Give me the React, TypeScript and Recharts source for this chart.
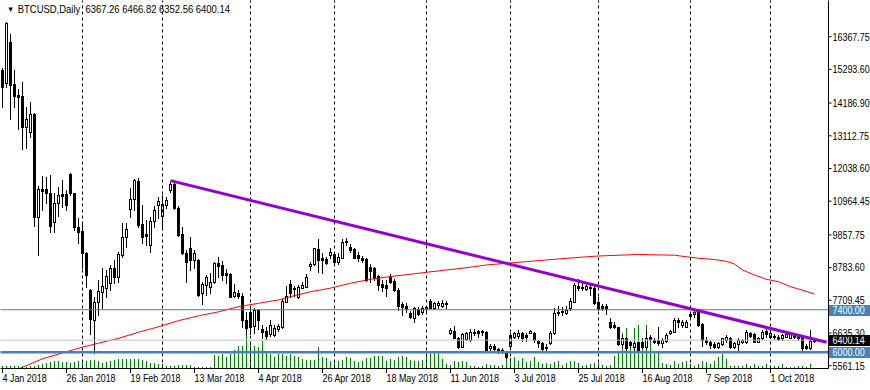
import { ComposedChart, Bar, Line, XAxis, YAxis, ReferenceLine } from "recharts";

const MONTHS = ["Jan", "Feb", "Mar", "Apr", "May", "Jun", "Jul", "Aug", "Sep", "Oct", "Nov", "Dec"];

// daily OHLC, weekdays from 4 Jan 2018 to 16 Oct 2018
const opens = [
  15270, 14840, 16180, 14810, 14450, 14420, 13390, 13230, 13820, 10460,
  11370, 11350, 11250, 10270, 10920, 11210, 11200, 11860, 11220, 10130,
  9990, 9270, 8050, 7060, 7660, 7990, 8100, 8290, 8780, 8490,
  9200, 9800, 10710, 11030, 11640, 10200, 9890, 9530, 10310, 10840,
  10480, 10840, 11330, 11530, 10730, 9880, 9270, 9420, 9030, 9030,
  7940, 8210, 8160, 8320, 8950, 8870, 8600, 8570, 7850, 7960,
  7860, 7060, 7340, 6870, 7390, 6770, 6700, 6600, 6570, 6760,
  6840, 7660, 8230, 8120, 7830, 8120, 8160, 8850, 8890, 9400,
  9090, 9060, 9200, 9220, 8960, 9110, 9660, 9470, 9400, 9200,
  9110, 9060, 8810, 8780, 8520, 8230, 8210, 8490, 8340, 8050,
  7580, 7530, 7280, 7140, 7420, 7310, 7420, 7690, 7450, 7560,
  7530, 7580, 6650, 6700, 6480, 6190, 6440, 6400, 6680, 6700,
  6700, 6660, 6130, 6220, 6110, 6080, 6020, 6220, 6520, 6540,
  6620, 6570, 6650, 6620, 6370, 6300, 6190, 6300, 6620, 7340,
  7360, 7280, 7450, 7670, 8180, 8160, 8080, 8160, 8120, 7670,
  7530, 7530, 7010, 6900, 6820, 6260, 6480, 6330, 6190, 6330,
  6350, 6190, 6520, 6400, 6400, 6300, 6370, 6620, 6680, 7060,
  6900, 6840, 7260, 7260, 7370, 6920, 6410, 6350, 6260, 6190,
  6260, 6410, 6480, 6190, 6260, 6330, 6330, 6620, 6590, 6350,
  6460, 6700, 6520, 6550, 6520, 6460, 6520, 6480, 6570, 6550,
  6520, 6220, 6150, 6367.26,
];
const highs = [
  15330, 16860, 16460, 15270, 14640, 14890, 14070, 14230, 13850, 11460,
  11800, 11770, 11830, 11250, 11420, 11660, 11330, 11880, 11250, 10400,
  10240, 9310, 8080, 7830, 8380, 8760, 8700, 8870, 9030, 9310,
  10240, 10240, 11390, 11680, 11720, 10840, 10350, 10430, 10810, 11110,
  11170, 11110, 11610, 11610, 10810, 10130, 9360, 9800, 9360, 9060,
  8320, 8540, 8620, 8980, 9140, 9010, 8730, 8600, 8230, 8050,
  7940, 7340, 7500, 7450, 7410, 6900, 6840, 7060, 6900, 6920,
  7750, 8180, 8380, 8190, 8210, 8300, 8560, 8960, 9440, 9720,
  9250, 9140, 9420, 9250, 9250, 9720, 9770, 9550, 9420, 9310,
  9180, 9090, 8890, 8810, 8540, 8380, 8380, 8560, 8410, 8100,
  7670, 7610, 7360, 7500, 7500, 7530, 7530, 7750, 7670, 7690,
  7720, 7690, 6790, 6870, 6520, 6620, 6660, 6770, 6770, 6730,
  6730, 6700, 6260, 6260, 6150, 6130, 6040, 6620, 6680, 6730,
  6680, 6620, 6730, 6680, 6400, 6350, 6260, 6700, 7470, 7530,
  7500, 7530, 7770, 8270, 8410, 8270, 8230, 8210, 8190, 7830,
  7580, 7580, 7120, 6990, 6840, 6570, 6520, 6370, 6370, 6350,
  6460, 6730, 6570, 6480, 6840, 6460, 6620, 6730, 7120, 7120,
  7060, 7060, 7340, 7420, 7420, 6950, 6520, 6410, 6350, 6350,
  6480, 6570, 6520, 6350, 6460, 6440, 6730, 6680, 6620, 6520,
  6730, 6790, 6700, 6590, 6570, 6590, 6620, 6620, 6590, 6590,
  6570, 6260, 6730, 6466.82,
];
const lows = [
  14070, 14710, 13650, 14050, 13330, 12670, 12700, 13080, 10150, 9200,
  10680, 10890, 9960, 9960, 10480, 10790, 10680, 11170, 10020, 9580,
  8760, 8160, 6590, 5970, 7230, 7470, 7830, 8050, 8270, 8320,
  9140, 9470, 10460, 10680, 10130, 9580, 9530, 9310, 10130, 10400,
  10130, 10730, 11280, 10700, 9820, 9230, 8300, 8700, 8760, 7850,
  7580, 7880, 7940, 8270, 8490, 8380, 8270, 7810, 7830, 7770,
  6840, 6600, 6600, 6620, 6760, 6460, 6430, 6540, 6550, 6700,
  6810, 7640, 7830, 7860, 7800, 8100, 8150, 8700, 8870, 8650,
  8600, 8890, 9090, 8890, 8890, 9090, 9530, 9310, 9090, 9000,
  8980, 8340, 8320, 8380, 8050, 8020, 7860, 8270, 8020, 7390,
  7230, 7330, 7120, 7010, 7230, 7250, 7340, 7450, 7420, 7450,
  7500, 7470, 6590, 6460, 6150, 6160, 6400, 6370, 6570, 6520,
  6570, 6000, 6080, 6020, 5990, 5970, 5800, 6190, 6460, 6460,
  6370, 6370, 6620, 6330, 6190, 6080, 6040, 6270, 6590, 7230,
  7230, 7250, 7390, 7640, 8050, 8050, 8050, 7880, 7580, 7390,
  7390, 7250, 6810, 6790, 6240, 6190, 6080, 6190, 6040, 6040,
  6130, 6130, 6370, 6300, 6240, 6190, 6350, 6600, 6660, 6840,
  6840, 6820, 7140, 7170, 6880, 6220, 6260, 6130, 6130, 6150,
  6240, 6350, 6130, 6130, 6080, 6300, 6300, 6520, 6330, 6330,
  6440, 6520, 6480, 6440, 6400, 6400, 6490, 6460, 6480, 6400,
  6080, 6110, 6110, 6352.56,
];
const closes = [
  14730, 16810, 14780, 14420, 14380, 13390, 13660, 13820, 10430, 11350,
  11310, 11250, 10160, 10920, 11160, 11150, 10840, 11220, 10130, 9960,
  9250, 8540, 7080, 7640, 8030, 8180, 8510, 8760, 8490, 9220,
  9800, 10040, 11030, 11650, 10180, 9800, 9830, 10330, 10680, 10980,
  10870, 11000, 11530, 10730, 9850, 9250, 8960, 9030, 9250, 7880,
  8250, 8460, 8320, 8950, 8840, 8540, 8540, 7830, 7970, 7850,
  7060, 6810, 6840, 7390, 7060, 6680, 6540, 6900, 6790, 6880,
  7690, 7860, 7940, 8070, 8160, 8210, 8490, 8900, 9420, 9030,
  9030, 8920, 9310, 8960, 9140, 9640, 9610, 9360, 9110, 9090,
  9030, 8380, 8670, 8430, 8210, 8160, 8100, 8320, 8050, 7530,
  7500, 7420, 7170, 7450, 7250, 7450, 7500, 7470, 7610, 7630,
  7630, 7610, 6730, 6480, 6190, 6590, 6620, 6680, 6620, 6620,
  6660, 6020, 6220, 6110, 6040, 6020, 5860, 6570, 6620, 6620,
  6460, 6520, 6700, 6400, 6300, 6110, 6130, 6620, 7280, 7280,
  7310, 7390, 7690, 8210, 8120, 8100, 8180, 8120, 7610, 7420,
  7450, 7420, 6840, 6840, 6260, 6480, 6130, 6240, 6300, 6080,
  6190, 6460, 6440, 6350, 6300, 6400, 6570, 6700, 7060, 6990,
  7010, 7010, 7200, 7340, 6900, 6410, 6350, 6240, 6190, 6300,
  6460, 6520, 6190, 6300, 6410, 6410, 6680, 6550, 6350, 6480,
  6680, 6590, 6620, 6490, 6440, 6570, 6590, 6590, 6520, 6460,
  6150, 6150, 6370, 6400.14,
];
// tick volume
const volumes = [
  900, 800, 700, 700, 700, 800, 400, 900, 700, 1200,
  1400, 1700, 1900, 2400, 2400, 2000, 1900, 1700, 1900, 2200,
  2400, 2100, 2600, 2600, 2400, 1600, 1900, 2400, 2600, 2800,
  2800, 2800, 2800, 2800, 2800, 2600, 2200, 1800, 1800, 1400,
  1400, 800, 900, 800, 1100, 1200, 1000, 1200, 400, 400,
  400, 400, 400, 4200, 3900, 4400, 3400, 4400, 5600, 6900,
  6900, 10800, 7400, 6900, 6400, 8400, 5400, 4400, 3400, 4400,
  4400, 3900, 4400, 3900, 3400, 2900, 2600, 2600, 2600, 6400,
  3400, 3200, 2400, 2600, 2400, 2600, 3400, 3200, 2400, 1900,
  2400, 3200, 3200, 3900, 3900, 3900, 2400, 2900, 2600, 3400,
  3900, 3400, 2600, 2400, 2400, 2600, 3700, 4600, 4600, 4600,
  2900, 1400, 1100, 2100, 1900, 2100, 1900, 900, 700, 600,
  900, 1400, 1100, 1100, 900, 1100, 3900, 3100, 3400, 2100,
  3100, 1900, 2400, 3400, 1900, 1400, 1700, 1400, 1900, 2100,
  1100, 1700, 2100, 2100, 1700, 900, 1100, 1400, 1700, 1700,
  1100, 900, 1100, 3700, 5100, 10800, 12000, 7700, 12100, 13100,
  8700, 13100, 8700, 4900, 5400, 1700, 1400, 1100, 2100, 1400,
  1900, 2400, 1400, 900, 1400, 2400, 1900, 1400, 2400, 3400,
  4400, 2900, 900, 900, 900, 900, 1400, 900, 1400, 900,
  900, 1400, 900, 900, 900, 1400, 400, 400, 400, 700,
  900, 400, 1400, 200,
];

// red moving average, read at these bar indexes
const maIdx = [0, 5, 10, 16, 20, 24, 29, 34, 39, 44, 49, 54, 59, 64, 69, 72, 77, 82, 87, 92, 97, 102, 106, 111, 116, 121, 126, 131, 136, 143, 149, 159, 168, 174, 178, 181, 183, 185, 188, 191, 194, 197, 199, 203];
const maVal = [5240, 5510, 5790, 6020, 6170, 6300, 6460, 6660, 6840, 7040, 7200, 7330, 7500, 7610, 7720, 7830, 7990, 8110, 8270, 8400, 8490, 8565, 8630, 8705, 8780, 8870, 8925, 8980, 9035, 9110, 9165, 9215, 9190, 9090, 9050, 8990, 8900, 8705, 8540, 8400, 8320, 8156, 8081, 7917];

const priceTicks = [5561.15, 6635.3, 7709.45, 8783.6, 9857.75, 10964.45, 12038.6, 13112.75, 14186.9, 15293.6, 16367.75];
const dateTicks = ["4 Jan 2018", "26 Jan 2018", "19 Feb 2018", "13 Mar 2018", "4 Apr 2018", "26 Apr 2018", "18 May 2018", "11 Jun 2018", "3 Jul 2018", "25 Jul 2018", "16 Aug 2018", "7 Sep 2018", "1 Oct 2018"];
const monthStarts = ["1 Feb 2018", "1 Mar 2018", "2 Apr 2018", "1 May 2018", "1 Jun 2018", "2 Jul 2018", "1 Aug 2018", "3 Sep 2018", "1 Oct 2018"];
const trendDates = ["5 Mar 2018", "19 Oct 2018"];
const trendPrices = [11640, 6330];
const levels = [7400, 6000];
const bid = 6400.14;

const FUTURE = 3; // empty shift area on the right
const FONT = "'Liberation Sans', Arial, sans-serif";
const FS = 10.5;
const SX = 0.85; // squeeze to look like the terminal's narrow font

function weekdays(start: string, count: number) {
  const out: string[] = [];
  const d = new Date(start + "T00:00:00Z");
  while (out.length < count) {
    const wd = d.getUTCDay();
    if (wd !== 0 && wd !== 6) out.push(`${d.getUTCDate()} ${MONTHS[d.getUTCMonth()]} ${d.getUTCFullYear()}`);
    d.setUTCDate(d.getUTCDate() + 1);
  }
  return out;
}

const dates = weekdays("2018-01-04", opens.length + FUTURE);
const data = dates.map((date, i) => {
  const k = maIdx.indexOf(i);
  return i < opens.length
    ? { date, open: opens[i], high: highs[i], low: lows[i], close: closes[i], vol: volumes[i], ma: k >= 0 ? maVal[k] : null }
    : { date, open: null, high: null, low: null, close: null, vol: null, ma: null };
});

function Label({ x, y, fill = "#000", children }: any) {
  return (
    <text transform={`translate(${x},${y}) scale(${SX},1)`} x={0} y={0} fontSize={FS} fontFamily={FONT} fill={fill}>
      {children}
    </text>
  );
}

function Candle(props: any) {
  const { x, y, width, height, payload } = props;
  if (!payload || payload.open == null) return null;
  const { open, close, high, low } = payload;
  const span = high - low || 1;
  const at = (v: number) => y + ((high - v) / span) * height;
  const cx = Math.floor(x + width / 2);
  const top = Math.round(at(Math.max(open, close))) + 0.5;
  const bot = Math.round(at(Math.min(open, close))) + 0.5;
  const up = close >= open;
  return (
    <g shapeRendering="crispEdges">
      <line x1={cx + 0.5} x2={cx + 0.5} y1={Math.round(y)} y2={Math.round(y + height) + 1} stroke="#000" />
      <rect x={cx - 0.5} y={top} width={2} height={Math.max(bot - top, 0)} fill={up ? "#fff" : "#000"} stroke="#000" strokeWidth={1} />
    </g>
  );
}

function VolBar(props: any) {
  const { x, y, width, height } = props;
  if (!height || height <= 0) return null;
  const cx = Math.floor(x + width / 2);
  return <rect x={cx} y={Math.round(y)} width={1} height={Math.round(height)} fill="#008000" shapeRendering="crispEdges" />;
}

function DateTick(props: any) {
  const { x, payload } = props;
  const px = Math.floor(x) + 0.5;
  return (
    <g>
      <line x1={px} x2={px} y1={368} y2={373} stroke="#000" shapeRendering="crispEdges" />
      <Label x={px} y={382}>{payload.value}</Label>
    </g>
  );
}

function PriceTick(props: any) {
  const { x, y, payload } = props;
  return <Label x={x} y={y + 3.8}>{Number(payload.value).toFixed(2)}</Label>;
}

function PriceTag(props: any) {
  const { viewBox, text, bg } = props;
  if (!viewBox) return null;
  const x = viewBox.x + viewBox.width;
  const y = Math.round(viewBox.y);
  return (
    <g>
      <rect x={x} y={y - 5.5} width={41.5} height={11} fill={bg} shapeRendering="crispEdges" />
      <Label x={x + 4} y={y + 4} fill="#fff">{text}</Label>
    </g>
  );
}

export default function App() {
  const last = opens.length - 1;
  const title = `BTCUSD,Daily  ${opens[last].toFixed(2)} ${highs[last].toFixed(2)} ${lows[last].toFixed(2)} ${closes[last].toFixed(2)}`;
  return (
    <div style={{ position: "absolute", left: 0, top: 0, width: 870, height: 390, background: "#fff" }}>
      <ComposedChart
        width={870}
        height={390}
        data={data}
        margin={{ top: 0.5, right: 0, bottom: 0, left: 0.5 }}
        barCategoryGap={0}
        barGap={0}
      >
        <XAxis
          xAxisId="d"
          dataKey="date"
          ticks={dateTicks}
          interval={0}
          height={21.5}
          tickLine={false}
          axisLine={{ stroke: "#000" }}
          tick={<DateTick />}
        />
        <XAxis xAxisId="dv" dataKey="date" hide />
        <XAxis xAxisId="t" dataKey="date" orientation="top" height={0} tick={false} tickLine={false} axisLine={{ stroke: "#000" }} />
        <YAxis yAxisId="l" orientation="left" width={0} domain={[0, 1]} tick={false} tickLine={false} axisLine={{ stroke: "#000" }} />
        <YAxis
          yAxisId="p"
          orientation="right"
          width={41.5}
          domain={[5469.5, 17556.8]}
          allowDataOverflow
          ticks={priceTicks}
          interval={0}
          tickSize={3}
          tickMargin={1}
          tickLine={{ stroke: "#000" }}
          axisLine={{ stroke: "#000" }}
          tick={<PriceTick />}
        />
        <YAxis yAxisId="v" hide domain={[0, 110400]} allowDataOverflow />

        {monthStarts.map((m) => (
          <ReferenceLine key={m} xAxisId="d" yAxisId="p" x={m} stroke="#000" strokeDasharray="3 3" />
        ))}

        <Bar xAxisId="dv" yAxisId="v" dataKey="vol" shape={<VolBar />} isAnimationActive={false} />
        <Bar
          xAxisId="d"
          yAxisId="p"
          dataKey={(d: any) => (d.high == null ? null : [d.low, d.high])}
          shape={<Candle />}
          isAnimationActive={false}
        />
        <Line
          xAxisId="d"
          yAxisId="p"
          dataKey="ma"
          stroke="#ff0000"
          strokeWidth={1}
          dot={false}
          connectNulls
          isAnimationActive={false}
        />

        <ReferenceLine xAxisId="d" yAxisId="p" y={levels[0]} stroke="#4682b4" strokeWidth={1} label={<PriceTag text={levels[0].toFixed(2)} bg="#4682b4" />} />
        <ReferenceLine xAxisId="d" yAxisId="p" y={bid} stroke="#c0c0c0" strokeWidth={1} label={<PriceTag text={bid.toFixed(2)} bg="#000" />} />
        <ReferenceLine xAxisId="d" yAxisId="p" y={levels[1]} stroke="#4682b4" strokeWidth={2.5} label={<PriceTag text={levels[1].toFixed(2)} bg="#4682b4" />} />
        <ReferenceLine
          xAxisId="d"
          yAxisId="p"
          segment={[
            { x: trendDates[0], y: trendPrices[0] },
            { x: trendDates[1], y: trendPrices[1] },
          ]}
          stroke="#9400d3"
          strokeWidth={3}
        />
      </ComposedChart>
      <div
        style={{
          position: "absolute",
          left: 7,
          top: 3,
          fontFamily: FONT,
          fontSize: FS,
          color: "#000",
          whiteSpace: "pre",
          lineHeight: "12px",
          transform: "scaleX(0.9)",
          transformOrigin: "0 0",
        }}
      >
        <span style={{ fontSize: 8, marginRight: 4, verticalAlign: "1px" }}>▼</span>
        {title}
      </div>
    </div>
  );
}
